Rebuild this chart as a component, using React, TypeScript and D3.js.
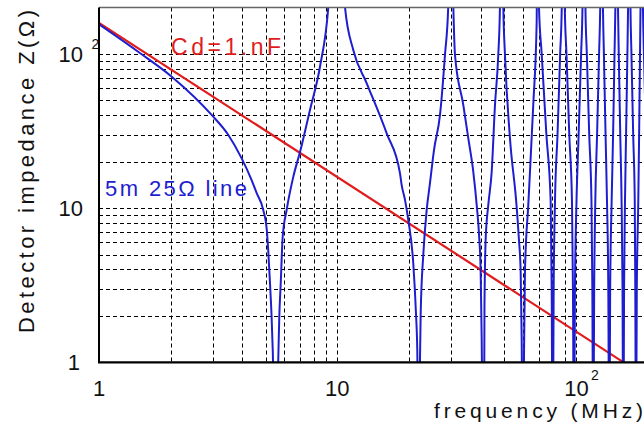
import React from 'react';
import * as d3 from 'd3';

// Axis ticks (labelled decades)
const freqTicks = [1, 10, 100];
const impTicks = [1, 10, 100];

// Red curve: Cd = 1 nF (straight in log-log)
const redFreq = [1, 159];
const redZ = [159, 1];

// Blue curve: 5 m 25 Ohm line (MHz, Ohm)
const blueFreq = [
  1, 1.46, 2.02, 2.97, 3.49, 3.97, 4.37, 4.59, 4.89, 5.06, 5.13, 5.22, 5.3, 5.36, 5.5,
  5.65, 5.71, 5.79, 5.9, 6.13, 6.54, 6.98, 7.68, 8.46, 9.17, 9.92,
  10.77, 11.67, 13.29, 16.12, 18.33, 18.63, 19.24, 19.86, 20.84, 21.39, 21.66, 21.96,
  22.23, 22.39, 22.96, 23.72, 24.49, 25.46, 26.98, 28.31, 29.23, 29.9,
  30.68, 31.19, 33.8, 35.46, 37.22, 38.46, 39.43, 39.97, 40.36, 40.88,
  41.4, 41.47, 41.96, 43.03, 44.46, 45.9, 47.38, 48.17, 48.97,
  49.73, 50.55, 53.05, 56.5, 57.8, 58.83, 59.4, 60.04,
  60.73, 61.32, 63.32, 66.44, 68.67, 69.2,
  70.23, 72.08, 75.43, 78.62, 79.38, 80.15,
  80.93, 81.96, 84.0, 86.16, 87.5, 88.8,
  90.1, 91.6, 94.1, 96.6, 97.5, 98.5,
  99.4, 100.9, 103.0, 105.5, 106.9, 108.5,
  110.0, 111.5, 114.1, 116.6, 117.6, 118.6,
  119.7, 121.0, 123.1, 125.5, 126.9, 128.7,
  130.3, 131.5, 133.6, 135.5, 137.2, 138.5,
  139.7, 141.7, 143.7, 145.7, 146.9, 148.8,
  150.7, 151.8, 154.0, 156.0, 157.4, 158.6,
  159.8, 161.2, 162.9, 165.0, 166.1, 168.1,
  170.0, 171.6, 174.5, 177.2, 178.1, 179.3,
  180.7, 183.3, 184.8, 186.4, 187.3, 189.4,
  191.8, 193.6, 197.4, 201.3,
];
const blueZ = [
  155.6, 103.3, 71.2, 40.2, 29.8, 21.0, 15.2, 12.5, 9.72, 7.21, 5.35, 3.25, 1.98, 1.2, 0.2,
  1.0, 1.98, 3.25, 6.52, 9.72, 16.0, 23.2, 43.3, 82.6, 202, 2000,
  202, 106, 64.5, 30.5, 16.8, 14.1, 11.3, 8.36, 4.39, 2.08, 1.2, 0.2,
  1.0, 2.08, 5.0, 9.72, 14.5, 23.8, 40.2, 98.4, 207, 2000,
  207, 98.4, 46.6, 28.4, 17.2, 10.5, 6.37, 3.87, 1.43, 0.2,
  1.0, 2.35, 6.37, 10.5, 17.2, 46.6, 98.4, 207, 2000,
  207, 98.4, 28.4, 10.5, 6.37, 3.87, 1.44, 0.2,
  1.0, 3.87, 10.5, 46.6, 161.8, 2000,
  200, 100, 30, 11, 3, 0.2,
  3, 11, 30, 100, 200, 2000,
  200, 100, 30, 11, 3, 0.2,
  3, 11, 30, 100, 200, 2000,
  200, 100, 30, 11, 3, 0.2,
  3, 11, 30, 100, 200, 2000,
  200, 100, 30, 11, 3, 0.2,
  3, 11, 30, 100, 200, 2000,
  200, 100, 30, 11, 3, 0.2,
  3, 11, 30, 100, 200, 2000,
  200, 100, 30, 11, 3, 0.2,
  3, 11, 30, 100, 200, 2000,
  200, 100, 30, 11,
];

const FONT = '"Liberation Sans", Arial, Helvetica, sans-serif';
const RED = '#e01c1c';
const BLUE = '#1e1ed0';

export default function App() {
  const W = 644;
  const H = 431;
  const x = d3.scaleLog().domain([1, 200]).range([99, 647.3]);
  const y = d3.scaleLog().domain([1, 200]).range([362.3, 7.5]);
  const [x0, x1] = x.range();
  const [y0, y1] = y.range();

  const xGrid = x.ticks().filter((v) => v > 1 && v < 200);
  const yGrid = y.ticks().filter((v) => v > 1 && v < 200);

  const smooth = d3
    .line<[number, number]>()
    .x((d) => x(d[0]))
    .y((d) => y(d[1]))
    .curve(d3.curveMonotoneX);
  const straight = d3
    .line<[number, number]>()
    .x((d) => x(d[0]))
    .y((d) => y(d[1]));

  const blueData: [number, number][] = blueFreq.map((f, i) => [f, blueZ[i]]);
  const redData: [number, number][] = redFreq.map((f, i) => [f, redZ[i]]);

  const snap = (v: number) => Math.round(v) + 0.5;

  return (
    <svg
      width={W}
      height={H}
      style={{ position: 'absolute', left: 0, top: 0, background: '#fff' }}
      fontFamily={FONT}
    >
      <defs>
        <clipPath id="plotClip">
          <rect x={x0} y={y1} width={x1 - x0} height={y0 - y1} />
        </clipPath>
      </defs>
      <rect x={0} y={0} width={W} height={H} fill="#fff" />

      {/* grid */}
      <g stroke="#000" strokeWidth={1} strokeDasharray="4,3">
        {xGrid.map((v) => (
          <line key={'gx' + v} x1={snap(x(v))} x2={snap(x(v))} y1={y1} y2={y0} />
        ))}
        {yGrid.map((v) => (
          <line key={'gy' + v} x1={x0} x2={x1} y1={snap(y(v))} y2={snap(y(v))} />
        ))}
      </g>

      {/* curves */}
      <g clipPath="url(#plotClip)" fill="none" strokeLinejoin="round">
        <path d={straight(redData) || ''} stroke={RED} strokeWidth={2.2} />
        <path d={smooth(blueData) || ''} stroke={BLUE} strokeWidth={2} />
      </g>

      {/* frame */}
      <line x1={x0} x2={x1} y1={y1} y2={y1} stroke="#666" strokeWidth={1.5} />
      <line x1={x0} x2={x0} y1={y1} y2={y0} stroke="#000" strokeWidth={2} />
      <line x1={x0 - 1} x2={x1} y1={y0} y2={y0} stroke="#000" strokeWidth={2.2} />

      {/* y tick labels */}
      {impTicks.map((v, i) => (
        <g key={'yl' + v}>
          <text
            x={i === 0 ? x0 - 19 : x0 - 16}
            y={y(v) + 8}
            fontSize={22}
            textAnchor="end"
            fill="#111"
          >
            {i === 2 ? '10' : String(v)}
          </text>
          {i === 2 && (
            <text x={x0 - 7.5} y={y(v) - 4.5} fontSize={14} fill="#111">
              2
            </text>
          )}
        </g>
      ))}

      {/* x tick labels */}
      {freqTicks.map((v, i) => (
        <g key={'xl' + v}>
          <text x={x(v) + (i === 2 ? 1 : 0)} y={396} fontSize={22} textAnchor="middle" fill="#111">
            {i === 2 ? '10' : String(v)}
          </text>
          {i === 2 && (
            <text x={x(v) + 15.5} y={380} fontSize={14} fill="#111">
              2
            </text>
          )}
        </g>
      ))}

      {/* axis titles */}
      <text
        x={434}
        y={418.3}
        fontSize={21}
        textLength={209}
        lengthAdjust="spacing"
        fill="#111"
      >
        frequency (MHz)
      </text>
      <text
        transform="translate(33.5,333) rotate(-90)"
        fontSize={22}
        textLength={323}
        lengthAdjust="spacing"
        fill="#111"
      >
        Detector impedance Z(Ω)
      </text>

      {/* curve labels */}
      <text x={171} y={55} fontSize={23} textLength={110} lengthAdjust="spacing" fill={RED}>
        Cd=1.nF
      </text>
      <text x={105} y={196} fontSize={22} textLength={142} lengthAdjust="spacing" fill={BLUE}>
        5m 25Ω line
      </text>
    </svg>
  );
}
